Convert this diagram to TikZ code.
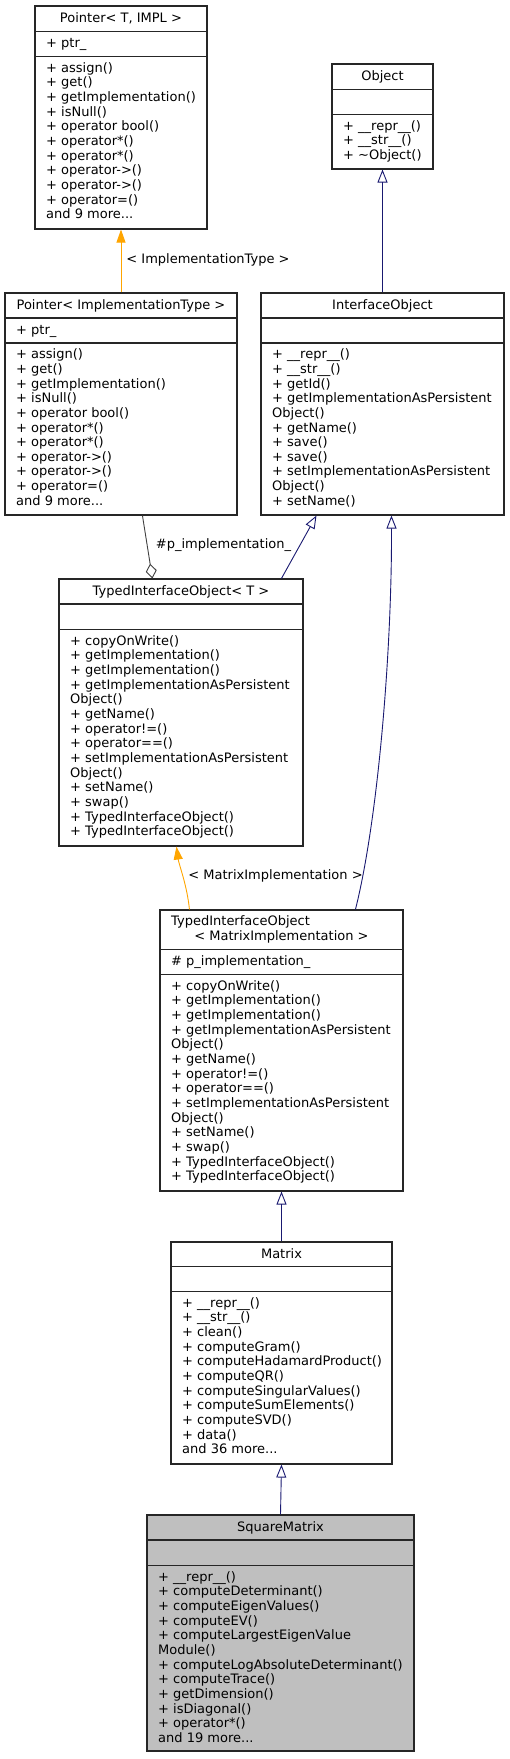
\documentclass[tikz,border=0pt]{standalone}
\usepackage{fontspec}
\setmainfont{DejaVu Sans}
\usepackage{xcolor}
\usepackage{tikz}
\usetikzlibrary{arrows.meta,positioning,calc}

\definecolor{boxline}{HTML}{262626}
\definecolor{boxgray}{HTML}{BFBFBF}
\definecolor{navyedge}{HTML}{191970}
\definecolor{orangeedge}{HTML}{FFA500}
\definecolor{aggredge}{HTML}{404040}

\tikzset{
	classbox/.style={draw=boxline, line width=1.1pt, rectangle, inner sep=0pt},
	sepline/.style={draw=boxline, line width=1.1pt},
	classtitle/.style={anchor=base, inner sep=0pt, font=\fontsize{13}{14.65}\selectfont},
	members/.style={anchor=north west, align=left, inner sep=0pt, font=\fontsize{13}{14.65}\selectfont, execute at begin node=\strut},
	inherit/.style={draw=navyedge, line width=0.9pt, -{Triangle[open, length=13pt, width=10pt]}},
	instance/.style={draw=orangeedge, line width=0.9pt, -{Triangle[length=13pt, width=9pt, fill=orangeedge]}},
	aggregate/.style={draw=aggredge, line width=0.9pt, -{Diamond[open, length=15pt, width=11pt]}},
	edgelabel/.style={anchor=west, inner sep=0pt, font=\fontsize{13}{14.65}\selectfont},
}

\begin{document}
\begin{tikzpicture}[x=1pt,y=-1pt]
		\useasboundingbox (0,0) rectangle (509,1759);
		% class boxes
		\node[classbox, minimum width=172pt, minimum height=223pt] (ptrT) at (121,117.5) {};
		\node[classbox, minimum width=101pt, minimum height=105pt] (obj) at (382.5,116.5) {};
		\node[classbox, minimum width=232pt, minimum height=222pt] (ptrI) at (121,404) {};
		\node[classbox, minimum width=243pt, minimum height=222pt] (iobj) at (382.5,404) {};
		\node[classbox, minimum width=244pt, minimum height=267pt] (tioT) at (181,712.5) {};
		\node[classbox, minimum width=243pt, minimum height=281pt] (tioM) at (281.5,1050.5) {};
		\node[classbox, minimum width=221pt, minimum height=222pt] (mat) at (281.5,1353) {};
		\node[classbox, fill=boxgray, minimum width=267pt, minimum height=236pt] (sq) at (280.5,1633) {};
		\foreach \n/\a/\b in {ptrT/26/51, obj/26/51, ptrI/25.5/50.5, iobj/25.5/50.5, tioT/25.5/51, tioM/40/65, mat/25/50, sq/25.5/51}{
			\draw[sepline] ([yshift=-\a pt]\n.north west) -- ([yshift=-\a pt]\n.north east);
			\draw[sepline] ([yshift=-\b pt]\n.north west) -- ([yshift=-\b pt]\n.north east);
		}

		% Pointer< T, IMPL >
		\node[classtitle] (ptrTtitle) at (121,22.5) {Pointer< T, IMPL >};
		\node[members] (ptrTattr) at (46,37.2) {+ ptr\_};
		\node[members] (ptrTops) at (46,62.2) {+ assign()\\+ get()\\+ getImplementation()\\+ isNull()\\+ operator bool()\\+ operator*()\\+ operator*()\\+ operator->()\\+ operator->()\\+ operator=()\\and 9 more...};

		% Object
		\node[classtitle] (objtitle) at (382.5,80.5) {Object};
		\node[members] (objops) at (343,120.2) {+ \_\_repr\_\_()\\+ \_\_str\_\_()\\+ \textasciitilde Object()};

		% Pointer< ImplementationType >
		\node[classtitle] (ptrItitle) at (121,309.5) {Pointer< ImplementationType >};
		\node[members] (ptrIattr) at (16,323.7) {+ ptr\_};
		\node[members] (ptrIops) at (16,348.7) {+ assign()\\+ get()\\+ getImplementation()\\+ isNull()\\+ operator bool()\\+ operator*()\\+ operator*()\\+ operator->()\\+ operator->()\\+ operator=()\\and 9 more...};

		% InterfaceObject
		\node[classtitle] (iobjtitle) at (382.5,309.5) {InterfaceObject};
		\node[members] (iobjops) at (272,348.7) {+ \_\_repr\_\_()\\+ \_\_str\_\_()\\+ getId()\\+ getImplementationAsPersistent\\Object()\\+ getName()\\+ save()\\+ save()\\+ setImplementationAsPersistent\\Object()\\+ setName()};

		% TypedInterfaceObject< T >
		\node[classtitle] (tioTtitle) at (181,595.5) {TypedInterfaceObject< T >};
		\node[members] (tioTops) at (70,635.2) {+ copyOnWrite()\\+ getImplementation()\\+ getImplementation()\\+ getImplementationAsPersistent\\Object()\\+ getName()\\+ operator!=()\\+ operator==()\\+ setImplementationAsPersistent\\Object()\\+ setName()\\+ swap()\\+ TypedInterfaceObject()\\+ TypedInterfaceObject()};

		% TypedInterfaceObject< MatrixImplementation >
		\node[classtitle, anchor=base west] (tioMtitle) at (171,925.7) {TypedInterfaceObject};
		\node[classtitle] (tioMtitleb) at (281.5,940.3) {< MatrixImplementation >};
		\node[members] (tioMattr) at (171,955.2) {\# p\_implementation\_};
		\node[members] (tioMops) at (171,980.2) {+ copyOnWrite()\\+ getImplementation()\\+ getImplementation()\\+ getImplementationAsPersistent\\Object()\\+ getName()\\+ operator!=()\\+ operator==()\\+ setImplementationAsPersistent\\Object()\\+ setName()\\+ swap()\\+ TypedInterfaceObject()\\+ TypedInterfaceObject()};

		% Matrix
		\node[classtitle] (mattitle) at (281.5,1258.5) {Matrix};
		\node[members] (matops) at (182,1297.2) {+ \_\_repr\_\_()\\+ \_\_str\_\_()\\+ clean()\\+ computeGram()\\+ computeHadamardProduct()\\+ computeQR()\\+ computeSingularValues()\\+ computeSumElements()\\+ computeSVD()\\+ data()\\and 36 more...};

		% SquareMatrix
		\node[classtitle] (sqtitle) at (280.5,1531.5) {SquareMatrix};
		\node[members] (sqops) at (158,1571.2) {+ \_\_repr\_\_()\\+ computeDeterminant()\\+ computeEigenValues()\\+ computeEV()\\+ computeLargestEigenValue\\Module()\\+ computeLogAbsoluteDeterminant()\\+ computeTrace()\\+ getDimension()\\+ isDiagonal()\\+ operator*()\\and 19 more...};

		% relations
		\draw[instance] (ptrI.north) -- (ptrT.south) node[pos=0.5, edgelabel, xshift=5pt, yshift=1.5pt] (lblImplType) {< ImplementationType >};
		\draw[inherit] (iobj.north) -- (obj.south);
		\draw[inherit] ([xshift=223pt]tioT.north west) -- ([xshift=56pt]iobj.south west);
		\draw[aggregate] ([xshift=138pt]ptrI.south west) -- ([xshift=94pt]tioT.north west) node[pos=0.5, edgelabel, xshift=8pt, yshift=2pt] (lblPimpl) {\#p\_implementation\_};
		\draw[instance] ([xshift=30pt]tioM.north west) .. controls (187,885) and (179,865) .. ([xshift=118pt]tioT.south west) node[pos=0.5, edgelabel, xshift=5pt] (lblMatImpl) {< MatrixImplementation >};
		\draw[inherit] ([xshift=196pt]tioM.north west) .. controls (378,820) and (392,650) .. ([xshift=131pt]iobj.south west);
		\draw[inherit] (mat.north) -- (tioM.south);
		\draw[inherit] (sq.north) -- (mat.south);
	\end{tikzpicture}
\end{document}
